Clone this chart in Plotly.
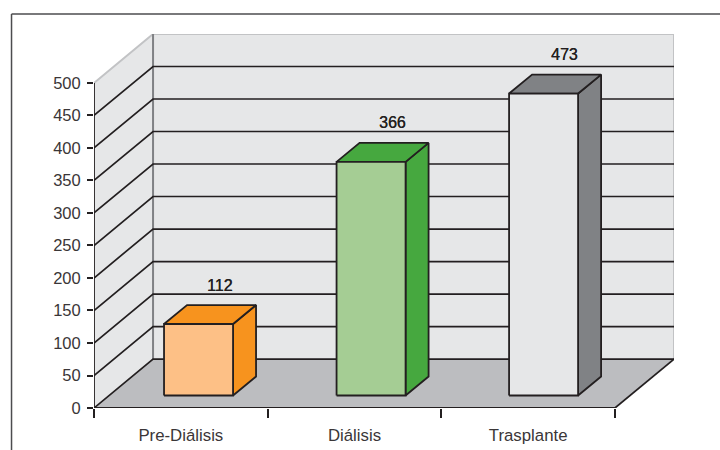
import plotly.graph_objects as go

# Chart values
categories = ["Pre-Diálisis", "Diálisis", "Trasplante"]
patients = [112, 366, 473]
value_ticks = [0, 50, 100, 150, 200, 250, 300, 350, 400, 450, 500]

# Colours per bar: front face, top and side face
front_colors = ["#fdc086", "#a5cd94", "#e6e7e8"]
shade_colors = ["#f7931e", "#46a83f", "#808285"]

INK = "#231f20"
WALL = "#e6e7e8"
FLOOR = "#bcbdc0"
RIM = "#c2c3c5"

# Oblique projection of the depth axis, in axis units
DEPTH_X = 0.34
DEPTH_Y = 75.3
N = len(categories)
MAX_V = value_ticks[-1]
# Bars sit inside the depth of the floor, slightly foreshortened
BAR_HALF = 0.1987
BAR_SHIFT_X = 0.102
BAR_SHIFT_Y = 19.2
BAR_DX = 0.1325
BAR_DY = 29.2
BAR_STEP = 0.9935
BAR_SCALE = 0.982
LABEL_DX = 0.123

fig = go.Figure()


def poly(xs, ys, fill, line=None, width=1.8):
    fig.add_trace(go.Scatter(
        x=xs, y=ys, mode="lines", fill="toself" if fill else None,
        fillcolor=fill, line=dict(color=line or "rgba(0,0,0,0)", width=width),
        hoverinfo="skip", showlegend=False, cliponaxis=False,
    ))


# Walls and floor
poly([0, DEPTH_X, DEPTH_X, 0, 0], [0, DEPTH_Y, MAX_V + DEPTH_Y, MAX_V, 0], WALL)
poly([DEPTH_X, N + DEPTH_X, N + DEPTH_X, DEPTH_X, DEPTH_X],
     [DEPTH_Y, DEPTH_Y, MAX_V + DEPTH_Y, MAX_V + DEPTH_Y, DEPTH_Y], WALL)
poly([0, N, N + DEPTH_X, DEPTH_X, 0], [0, 0, DEPTH_Y, DEPTH_Y, 0], FLOOR)

# Wall rims
poly([0, DEPTH_X, N + DEPTH_X, N + DEPTH_X],
     [MAX_V, MAX_V + DEPTH_Y, MAX_V + DEPTH_Y, DEPTH_Y], None, RIM, 2)
poly([DEPTH_X, DEPTH_X], [DEPTH_Y, MAX_V + DEPTH_Y], None, "#808285", 2)

# Gridlines run along the side wall and across the back wall
for v in value_ticks[:-1]:
    poly([0, DEPTH_X, N + DEPTH_X], [v, v + DEPTH_Y, v + DEPTH_Y], None, INK, 1.7)

# Axis lines and the near edge of the floor
poly([N, N + DEPTH_X], [0, DEPTH_Y], None, INK, 1.7)
poly([0, 0], [0, MAX_V], None, INK, 1.8)
poly([0, N], [0, 0], None, INK, 2.2)

# Bars
for i, value in enumerate(patients):
    centre = 0.5 + BAR_SHIFT_X + BAR_STEP * i
    x0, x1 = centre - BAR_HALF, centre + BAR_HALF
    y0 = BAR_SHIFT_Y
    top = y0 + value * BAR_SCALE
    poly([x1, x1 + BAR_DX, x1 + BAR_DX, x1, x1],
         [y0, y0 + BAR_DY, top + BAR_DY, top, y0], shade_colors[i], INK)
    poly([x0, x1, x1 + BAR_DX, x0 + BAR_DX, x0],
         [top, top, top + BAR_DY, top + BAR_DY, top], shade_colors[i], INK)
    poly([x0, x1, x1, x0, x0], [y0, y0, top, top, y0], front_colors[i], INK)
    fig.add_annotation(
        x=centre + LABEL_DX, y=top + BAR_DY, yshift=20, text=str(value),
        showarrow=False,
        font=dict(family="Liberation Sans", size=16, color=INK,
                  shadow="0.3px 0 0 #231f20"),
    )

fig.update_layout(
    width=720, height=450,
    paper_bgcolor="white", plot_bgcolor="white",
    margin=dict(l=93.5, r=46, t=34, b=41.5),
    font=dict(family="Liberation Sans", size=16, color="#3a3637"),
    showlegend=False,
    xaxis=dict(
        range=[0, N + DEPTH_X], showgrid=False, zeroline=False, showline=False,
        automargin=False,
        tickvals=[0.5, 1.5, 2.5], ticktext=categories,
        ticks="outside", ticklen=12, tickcolor="rgba(0,0,0,0)",
        tickfont=dict(size=16.8),
        minor=dict(dtick=1, tick0=0, ticks="outside", ticklen=9, tickcolor=INK,
                   tickwidth=1.5, showgrid=False),
    ),
    yaxis=dict(
        range=[0, MAX_V + DEPTH_Y], showgrid=False, zeroline=False, showline=False,
        automargin=False,
        tickvals=value_ticks, ticks="outside", ticklen=6, tickcolor=INK,
        tickwidth=1.5, ticklabelstandoff=3, tickfont=dict(size=16.5),
    ),
    # Frame around the figure, open at the bottom and on the right
    shapes=[
        dict(type="line", xref="paper", yref="paper", x0=-0.1422, x1=-0.1422,
             y0=-0.12, y1=1.0534, line=dict(color="#4d4d4f", width=1.5)),
        dict(type="line", xref="paper", yref="paper", x0=-0.1422, x1=1.09,
             y0=1.0534, y1=1.0534, line=dict(color="#4d4d4f", width=1.5)),
    ],
)

fig.write_html("out.html")
